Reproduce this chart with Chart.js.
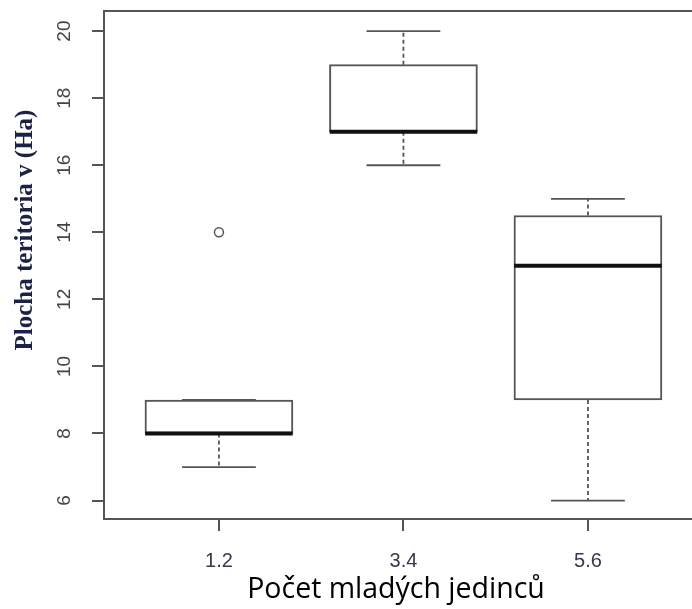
<!DOCTYPE html>
<html>
<head>
<meta charset="utf-8">
<script src="https://cdn.jsdelivr.net/npm/chart.js@4"></script>
<style>
  html, body { margin: 0; padding: 0; background: #fff; }
  canvas { display: block; }
</style>
</head>
<body>
<canvas id="boxChart" width="692" height="609"></canvas>
<script>
/* Data - boxplot */
const categories = ['1.2', '3.4', '5.6'];
const positions = [1, 2, 3];
const whiskerLow = [7, 16, 6];
const q1 = [8, 17, 9];
const median = [8, 17, 13];
const q3 = [9, 19, 14.5];
const whiskerHigh = [9, 20, 15];
const outlierPos = [1];
const outlierValue = [14];
const yTicks = [6, 8, 10, 12, 14, 16, 18, 20];

const xTitle = 'Počet mladých jedinců';
const yTitle = 'Plocha teritoria v (Ha)';

const lineColor = '#555';

/* Plugin: whiskers, caps, median, frame and texts */
const boxExtras = {
  id: 'boxExtras',
  afterDatasetsDraw(chart) {
    const ctx = chart.ctx;
    const xs = chart.scales.x;
    const ys = chart.scales.y;
    const area = chart.chartArea;

    ctx.save();
    positions.forEach((p, i) => {
      const cx = xs.getPixelForValue(p);
      const capL = xs.getPixelForValue(p - 0.2);
      const capR = xs.getPixelForValue(p + 0.2);
      const boxL = xs.getPixelForValue(p - 0.4);
      const boxR = xs.getPixelForValue(p + 0.4);

      // whiskers (dashed)
      ctx.strokeStyle = lineColor;
      ctx.lineWidth = 1.8;
      ctx.setLineDash([4, 3]);
      ctx.beginPath();
      if (whiskerHigh[i] > q3[i]) {
        ctx.moveTo(cx, ys.getPixelForValue(q3[i]));
        ctx.lineTo(cx, ys.getPixelForValue(whiskerHigh[i]));
      }
      if (whiskerLow[i] < q1[i]) {
        ctx.moveTo(cx, ys.getPixelForValue(q1[i]));
        ctx.lineTo(cx, ys.getPixelForValue(whiskerLow[i]));
      }
      ctx.stroke();

      // caps
      ctx.setLineDash([]);
      ctx.beginPath();
      [whiskerLow[i], whiskerHigh[i]].forEach(v => {
        const y = ys.getPixelForValue(v);
        ctx.moveTo(capL, y);
        ctx.lineTo(capR, y);
      });
      ctx.stroke();

      // median
      ctx.strokeStyle = '#111';
      ctx.lineWidth = 4;
      ctx.beginPath();
      const my = ys.getPixelForValue(median[i]);
      ctx.moveTo(boxL, my);
      ctx.lineTo(boxR, my);
      ctx.stroke();
    });

    // top frame line
    ctx.strokeStyle = lineColor;
    ctx.lineWidth = 2;
    ctx.beginPath();
    ctx.moveTo(area.left, area.top);
    ctx.lineTo(chart.width, area.top);
    ctx.stroke();

    // y tick labels (rotated)
    ctx.fillStyle = '#444';
    ctx.font = '19px "Liberation Sans", Arial, sans-serif';
    ctx.textAlign = 'center';
    ctx.textBaseline = 'middle';
    yTicks.forEach(v => {
      ctx.save();
      ctx.translate(65, ys.getPixelForValue(v));
      ctx.rotate(-Math.PI / 2);
      ctx.fillText(String(v), 0, 0);
      ctx.restore();
    });

    // y title
    ctx.save();
    ctx.fillStyle = '#1b2244';
    ctx.font = 'bold 25px "Liberation Serif", "Times New Roman", serif';
    ctx.translate(26, 230);
    ctx.rotate(-Math.PI / 2);
    ctx.fillText(yTitle, 0, 0);
    ctx.restore();

    // x title
    ctx.fillStyle = '#000';
    ctx.font = '28.5px "Open Sans", Lato, sans-serif';
    ctx.fillText(xTitle, 396, 590);

    ctx.restore();
  }
};

new Chart(document.getElementById('boxChart'), {
  type: 'bar',
  data: {
    datasets: [
      {
        label: 'box',
        data: positions.map((p, i) => ({ x: p, y: [q1[i], q3[i]] })),
        backgroundColor: '#fff',
        borderColor: lineColor,
        borderWidth: 2,
        borderSkipped: false,
        barThickness: 148
      },
      {
        type: 'scatter',
        label: 'outliers',
        data: outlierPos.map((p, i) => ({ x: p, y: outlierValue[i] })),
        pointRadius: 4.5,
        pointBorderWidth: 1.5,
        borderColor: lineColor,
        backgroundColor: 'rgba(0,0,0,0)'
      }
    ]
  },
  options: {
    responsive: false,
    animation: false,
    devicePixelRatio: 1,
    layout: {
      autoPadding: false,
      padding: { top: 11, right: 0, left: 0, bottom: 0 }
    },
    plugins: {
      legend: { display: false },
      tooltip: { enabled: false }
    },
    scales: {
      x: {
        type: 'linear',
        offset: false,
        min: 0.377,
        max: 3.564,
        afterBuildTicks: s => { s.ticks = positions.map(v => ({ value: v })); },
        afterFit: s => {
          s.height = 90;
          s.paddingLeft = 0;
          s.paddingRight = 0;
        },
        ticks: {
          callback: (v, i) => categories[i],
          color: '#333a48',
          padding: 18,
          font: { family: '"Liberation Sans", Arial, sans-serif', size: 20 }
        },
        grid: {
          offset: false,
          drawOnChartArea: false,
          drawTicks: true,
          tickLength: 12,
          color: lineColor,
          lineWidth: 2
        },
        border: { display: true, color: lineColor, width: 2 }
      },
      y: {
        min: 5.45,
        max: 20.6,
        afterBuildTicks: s => { s.ticks = yTicks.map(v => ({ value: v })); },
        afterFit: s => {
          s.width = 104;
          s.paddingTop = 0;
          s.paddingBottom = 0;
        },
        ticks: { display: false },
        grid: {
          drawOnChartArea: false,
          drawTicks: true,
          tickLength: 12,
          color: lineColor,
          lineWidth: 2
        },
        border: { display: true, color: lineColor, width: 2 }
      }
    }
  },
  plugins: [boxExtras]
});
</script>
</body>
</html>
